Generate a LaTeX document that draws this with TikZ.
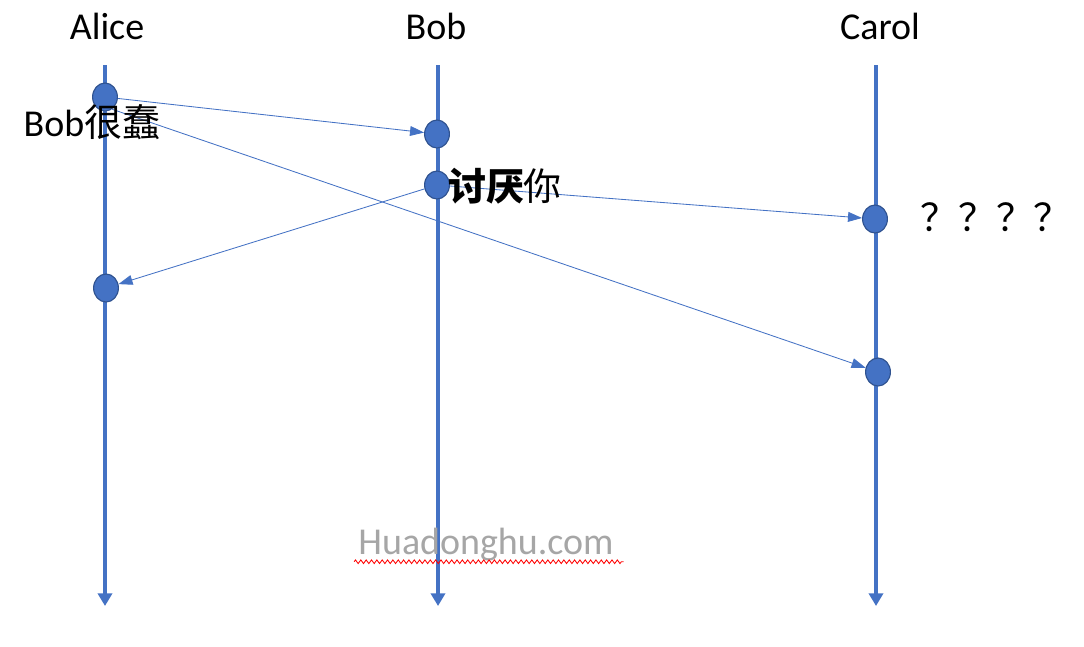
\documentclass[tikz,border=0pt]{standalone}
\usepackage{fontspec}
\setmainfont{Carlito}
\newfontfamily\cjk{Noto Sans CJK SC}
\usepackage{tikz}
\usetikzlibrary{shapes.geometric,arrows.meta,decorations.pathmorphing}
\definecolor{lineblue}{HTML}{4472C4}
\definecolor{rimblue}{HTML}{2F528F}
\tikzstyle{ev}=[shape=ellipse,draw=rimblue,fill=lineblue,line width=0.8pt,minimum width=0.62cm,minimum height=0.7cm,inner sep=0pt]
\tikzstyle{life}=[-{Triangle[length=9pt,width=10pt]},draw=lineblue,line width=3.5pt]
\tikzstyle{msg}=[-{Triangle[length=10pt,width=7pt]},draw=lineblue,line width=0.6pt]
\tikzstyle{who}=[font=\fontsize{27}{31}\selectfont]
\tikzstyle{say}=[font=\fontsize{27}{31}\selectfont,inner sep=0pt]

\begin{document}
\begin{tikzpicture}[x=0.025cm,y=-0.025cm]
            \useasboundingbox (0,0) rectangle (1084,646);
            \node[who] (Alice) at (107,26) {Alice};
            \node[who] (Bob) at (436,26) {Bob};
            \node[who] (Carol) at (880,26) {Carol};
            % lifelines
            \coordinate (At) at (105,65);
            \coordinate (Ab) at (105,606);
            \coordinate (Bt) at (438,65);
            \coordinate (Bb) at (438,606);
            \coordinate (Ct) at (876,65);
            \coordinate (Cb) at (876,606);
            \draw[life] (At) -- (Ab);
            \draw[life] (Bt) -- (Bb);
            \draw[life] (Ct) -- (Cb);
            % events
            \node[ev] (A1) at (105,97) {};
            \node[ev] (A2) at (106,288) {};
            \node[ev] (B1) at (437,134) {};
            \node[ev] (B2) at (437,185) {};
            \node[ev] (C1) at (875,219) {};
            \node[ev] (C2) at (878,372) {};
            % messages
            \draw[msg] (A1) -- (B1);
            \draw[msg] (A1.-60) -- (C2);
            \draw[msg] (B2) -- (A2);
            \draw[msg] (B2) -- (C1);
            \node[say] (m1) at (92,122) {Bob{\cjk 很蠢}};
            \node[say] (m2) at (505,186) {\cjk{\bfseries 讨厌}你};
            \node[say] (m3) at (996,217) {\cjk ？？？？};
            % watermark
            \node[say,text=black!35] (wm) at (486,545) {Huadonghu.com};
            \draw[red,line width=0.6pt,decorate,decoration={zigzag,amplitude=1.3pt,segment length=3.8pt}]
                (wm.south west) ++(-4,0) coordinate (u1) -- ([xshift=7]wm.south east |- u1);
        \end{tikzpicture}
\end{document}
